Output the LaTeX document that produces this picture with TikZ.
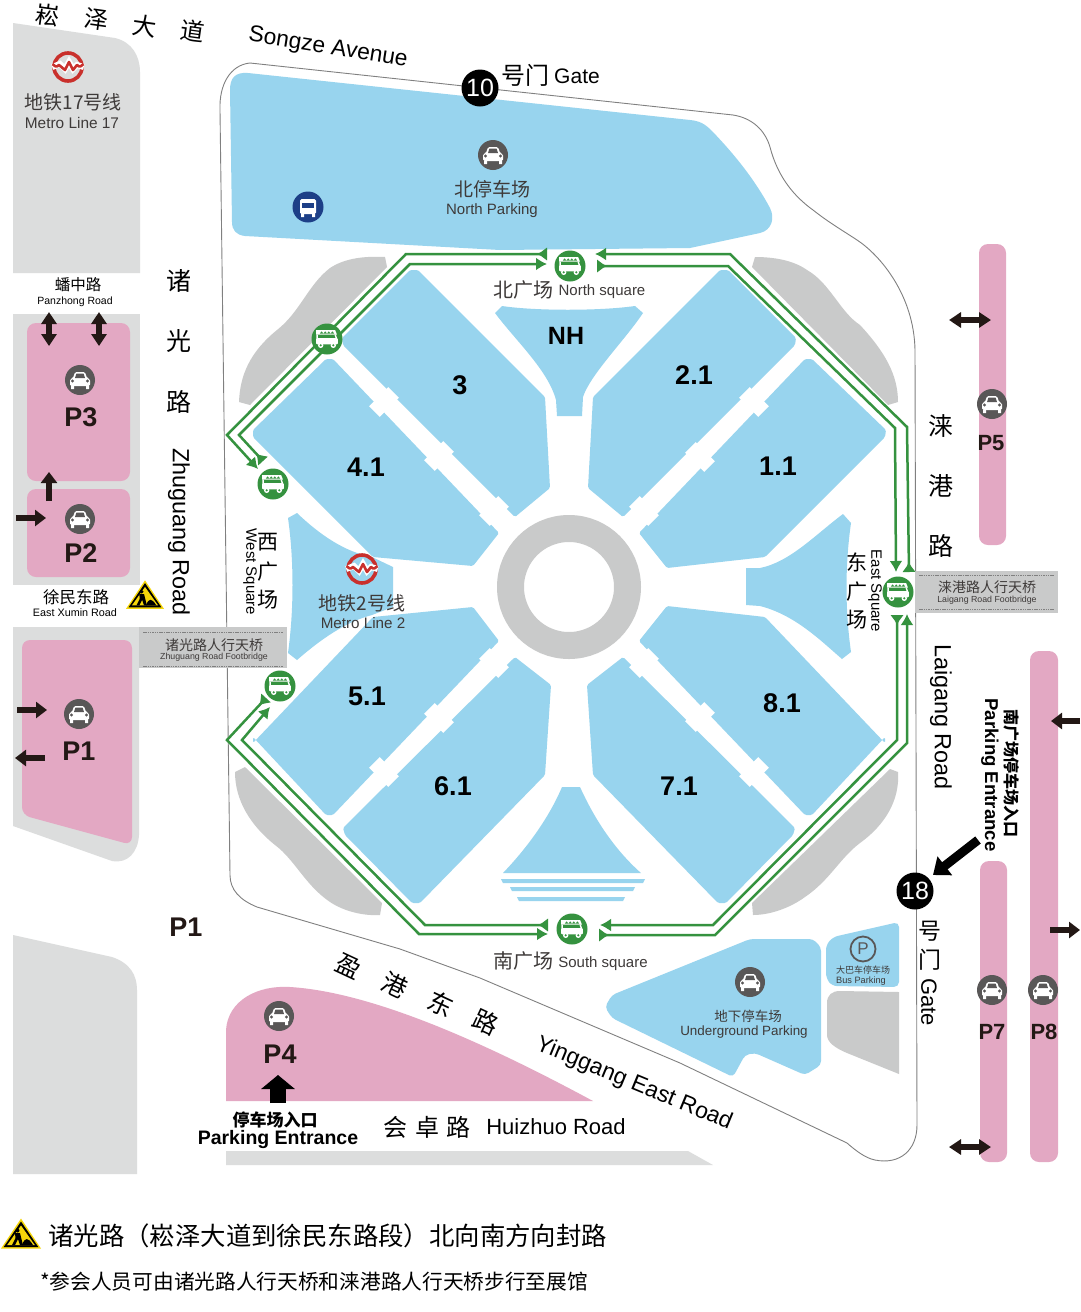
\documentclass[tikz,border=0pt]{standalone}
\usepackage{fontspec}
\setmainfont{Liberation Sans}
\newfontfamily\cjk{Noto Sans CJK SC}
\usetikzlibrary{arrows.meta}
\definecolor{hallblue}{HTML}{98D4EE}
\definecolor{pinkp}{HTML}{E3A8C3}
\definecolor{darkgray1}{HTML}{C9CACA}
\definecolor{lightgray1}{HTML}{DCDDDD}
\definecolor{routegreen}{HTML}{35923F}
\definecolor{inkdark}{HTML}{231815}
\definecolor{textgray}{HTML}{3E3A39}
\definecolor{cargray}{HTML}{595757}
\definecolor{metrored}{HTML}{C9302C}
\definecolor{metronavy}{HTML}{1D3F87}
\definecolor{signyellow}{HTML}{F5D60A}
\tikzset{
  zh/.style={font=\cjk\fontsize{#1}{#1}\selectfont,inner sep=0pt},
  en/.style={font=\fontsize{#1}{#1}\selectfont,inner sep=0pt},
  bd/.style={font=\bfseries\fontsize{#1}{#1}\selectfont,inner sep=0pt},
  zhbd/.style={font=\cjk\bfseries\fontsize{#1}{#1}\selectfont,inner sep=0pt},
  hall/.style={fill=hallblue,rounded corners=1.5pt},
  greyblob/.style={fill=darkgray1},
  pinkbox/.style={fill=pinkp,rounded corners=9pt},
  notch/.style={fill=white,inner sep=0pt,minimum width=15pt,minimum height=27pt},
  route/.style={draw=routegreen,line width=2.5pt,{Latex[reversed,length=10pt,width=14pt]}-{Latex[length=11pt,width=13pt]}},
  stop/.style={circle,fill=routegreen,inner sep=0pt,minimum size=31pt},
  carbadge/.style={circle,fill=cargray,inner sep=0pt,minimum size=30pt},
  badge/.style={circle,fill=black,text=white,inner sep=0pt,minimum size=37pt,font=\fontsize{25}{25}\selectfont},
  blockarrow/.style={draw=inkdark,line width=6pt,-{Triangle[length=11pt,width=16pt]}},
  blockboth/.style={draw=inkdark,line width=5.5pt,{Triangle[length=12pt,width=15pt]}-{Triangle[length=12pt,width=15pt]}},
  bigarrow/.style={draw=black,line width=9pt,-{Triangle[length=15pt,width=23pt]}},
  huge arrow/.style={draw=black,line width=16pt,-{Triangle[length=14pt,width=33pt]}},
  dashrule/.style={draw=gray,line width=0.6pt,dash pattern=on 1.5pt off 0.8pt},
  pics/caricon/.style={code={
    \fill[white,rounded corners=1.5pt] (-7,-2) -- (-5,-8) -- (5,-8) -- (7,-2) -- (10,-1) -- (10,6) -- (-10,6) -- (-10,-1) -- cycle;
    \fill[cargray] (-5,-2) -- (-3.6,-6.3) -- (3.6,-6.3) -- (5,-2) -- cycle;
    \fill[cargray] (-7.5,1) circle (1.6) (7.5,1) circle (1.6);
    \fill[white] (-9,6) rectangle (-6,9) (6,6) rectangle (9,9);
  }},
  pics/carticon/.style={code={
    \fill[white] (-12,-10) -- (9,-10) -- (11,-5) -- (-12,-5) -- cycle;
    \foreach \k in {-8,-4,0,4} \fill[routegreen] (\k,-6) -- (\k+2,-8.5) -- (\k+4,-6) -- cycle;
    \draw[white,line width=1.4pt] (-11,-5) -- (-11,5) (9,-5) -- (11,1) -- (11,5);
    \fill[white,rounded corners=1pt] (-12,-1) -- (12,-1) -- (12,6) -- (-12,6) -- cycle;
    \fill[white] (-7,7) circle (3) (7,7) circle (3);
    \fill[routegreen] (-7,7) circle (1.3) (7,7) circle (1.3);
  }},
  pics/metrologo/.style={code={
    \draw[metrored,line width=3.6pt] (0,0) circle (14);
    \draw[white,line width=6pt] (-15.8,0) -- (-8,-3) -- (-3,2) -- (1,-5) -- (5,2) -- (9,-2) -- (15.8,0);
    \draw[metrored,line width=2.6pt,line join=round] (-15.5,-3) .. controls (-13,-1) and (-12,1) .. (-9,-2) -- (-3,3) -- (1,-5) -- (5,3) -- (9,-2) .. controls (12,1) and (13,-1) .. (15.5,-3);
  }},
  pics/warnsign/.style={code={
    \fill[signyellow] (0,-15.5) -- (20,14.5) -- (-20,14.5) -- cycle;
    \fill[black] (0,-12.5) -- (17.3,13) -- (-17.3,13) -- cycle;
    \fill[signyellow] (0,-8.5) -- (13.8,11) -- (-13.8,11) -- cycle;
    \fill[black] (1,11) .. controls (4,3) and (7,3) .. (12,11) -- cycle;
    \fill[black] (-3.5,-3.5) circle (2);
    \fill[black] (-6,-1) -- (-1,-1) -- (0,3) -- (2,11) -- (-1,11) -- (-3,5) -- (-6,11) -- (-9,11) -- (-5.5,4) -- cycle;
  }},
}
\begin{document}
\begin{tikzpicture}[x=1pt,y=-1pt]
\useasboundingbox (0,0) rectangle (1080,1312);
\fill[white] (0,0) rectangle (1080,1312);

% light grey blocks on the left
\fill[lightgray1] (13,23) -- (115,38) .. controls (132,42) and (140,56) .. (140,72) -- (140,273) -- (13,273) -- cycle;
\fill[lightgray1] (13,314) rectangle (140,585);
\fill[lightgray1] (13,627) -- (139,627) -- (139,835) .. controls (138,852) and (128,864) .. (112,861) -- (13,826) -- cycle;
\fill[lightgray1] (13,935) -- (112,957) .. controls (130,963) and (137,975) .. (137,990) -- (137,1174) -- (13,1174) -- cycle;
\fill[lightgray1] (226,1151) -- (688,1151) -- (713,1165) -- (226,1165) -- cycle;

% site boundary
\draw[gray,line width=0.9pt] (250,63) -- (733,115) .. controls (752,118) and (765,130) .. (770,147) .. controls (778,178) and (795,197) .. (813,210) .. controls (828,222) and (845,232) .. (857,240) .. controls (880,255) and (914,295) .. (915,350) -- (917,1125) .. controls (917,1150) and (900,1165) .. (875,1160) .. controls (865,1158) and (855,1150) .. (847,1143) -- (680,1063) -- (480,978) -- (400,949) -- (257,907) .. controls (240,900) and (230,890) .. (230,875) -- (220,110) .. controls (219,85) and (230,65) .. (250,63);

% pink parking
\fill[pinkbox] (27,323) rectangle (130,481);
\fill[pinkbox] (27,489) rectangle (130,577);
\fill[pinkp,rounded corners=8pt] (22,640) -- (132,640) -- (132,845) -- (22,815) -- cycle;
\fill[pinkp] (226,1101) -- (226,1030) .. controls (228,1000) and (258,985) .. (290,987) .. controls (370,992) and (480,1040) .. (593,1101) -- cycle;
\fill[pinkbox] (979,244) rectangle (1006,545);
\fill[pinkbox] (980,861) rectangle (1007,1162);
\fill[pinkbox] (1030,651) rectangle (1058,1162);

% grey blobs
\fill[greyblob] (385,257) -- (387,267) -- (250,405) -- (239,402) .. controls (240,375) and (250,352) .. (277,330) .. controls (300,312) and (308,285) .. (330,268) .. controls (345,258) and (365,256) .. (385,257) -- cycle;
\fill[greyblob] (755,257) -- (752,267) -- (888,405) -- (898,402) .. controls (898,375) and (885,352) .. (860,325) .. controls (840,312) and (830,283) .. (807,270) .. controls (793,260) and (773,257) .. (755,257) -- cycle;
\fill[greyblob] (245,767) -- (235,772) .. controls (235,800) and (250,825) .. (275,845) .. controls (295,860) and (305,885) .. (330,902) .. controls (345,912) and (365,916) .. (380,915) -- (382,903) -- cycle;
\fill[greyblob] (890,769) -- (898,772) .. controls (900,800) and (885,825) .. (860,843) .. controls (840,858) and (830,880) .. (805,897) .. controls (790,908) and (770,915) .. (753,915) -- (752,903) -- cycle;
\fill[greyblob] (827,1003) .. controls (827,995) and (832,991) .. (840,991) -- (899,992) -- (899,1074) -- (847,1053) .. controls (835,1048) and (827,1042) .. (827,1035) -- cycle;
\draw[darkgray1,line width=27pt] (569,587) circle (58.5);

% blue areas
\fill[hallblue] (230,90) .. controls (230,78) and (235,72) .. (248,73) -- (690,120) .. controls (700,121) and (705,124) .. (712,131) .. controls (735,155) and (755,180) .. (770,208) .. controls (775,218) and (772,230) .. (760,233) -- (690,248) -- (500,250) -- (245,236) .. controls (236,235) and (232,230) .. (232,222) -- cycle;
\fill[hall] (410,270) -- (418,270) -- (545,397) -- (550,488) -- (515,517) -- (343,345) -- (342,338) -- cycle;
\fill[hall] (728,270) -- (720,270) -- (593,397) -- (588,488) -- (623,517) -- (795,345) -- (796,338) -- cycle;
\fill[hall] (326,359) -- (333,359) -- (499,533) -- (473,566) -- (373,557) -- (253,437) -- (253,430) -- cycle;
\fill[hall] (812,359) -- (805,359) -- (639,533) -- (667,568) -- (765,557) -- (885,437) -- (886,430) -- cycle;
\fill[hall] (326,815) -- (333,815) -- (499,641) -- (473,607) -- (373,617) -- (253,743) -- (253,737) -- cycle;
\fill[hall] (812,815) -- (805,815) -- (639,641) -- (667,606) -- (765,617) -- (885,743) -- (885,737) -- cycle;
\fill[hall] (515,657) -- (551,685) -- (545,775) -- (420,903) -- (412,903) -- (345,835) -- (343,828) -- cycle;
\fill[hall] (623,657) -- (587,685) -- (593,775) -- (718,903) -- (726,903) -- (793,835) -- (795,828) -- cycle;
\fill[hallblue] (495,313) -- (502,306) .. controls (535,311) and (600,311) .. (635,306) -- (643,313) .. controls (625,340) and (590,375) .. (583,397) -- (582,416) -- (557,416) -- (556,400) .. controls (548,370) and (515,340) .. (495,313) -- cycle;
\fill[hallblue] (562,787) -- (580,787) .. controls (595,820) and (615,850) .. (641,873) -- (503,873) .. controls (525,850) and (548,820) .. (562,787) -- cycle;
\fill[hallblue] (501,879) -- (645,879) -- (643,883) -- (503,883) -- cycle;
\fill[hallblue] (510,887) -- (635,887) -- (633,891) -- (512,891) -- cycle;
\fill[hallblue] (517,897) -- (625,897) -- (623,901) -- (519,901) -- cycle;
\fill[hallblue] (288,518) -- (297,513) .. controls (320,535) and (345,552) .. (372,557) -- (393,567) -- (393,607) -- (372,615) .. controls (345,622) and (320,640) .. (297,660) -- (288,653) .. controls (294,610) and (294,560) .. (288,518) -- cycle;
\fill[hallblue] (843,514) -- (851,523) .. controls (845,565) and (845,610) .. (851,652) -- (842,659) .. controls (820,640) and (795,615) .. (760,606) -- (746,605) -- (746,568) -- (760,568) .. controls (790,562) and (815,535) .. (843,514) -- cycle;
\fill[hallblue,rounded corners=5pt] (826,945) -- (833,937) -- (899,922) -- (899,987) -- (832,986) -- (826,978) -- cycle;
\fill[hallblue,rounded corners=4pt] (750,939) -- (813,939) -- (821,947) -- (821,1065) -- (805,1075) -- (755,1053) -- (745,1055) -- (733,1077) -- (612,1018) -- (605,1007) -- (612,995) -- cycle;

% widened parts of the walkways
\foreach \x/\y in {384/402,439/456,494/511,644/663,700/717,754/772} \node[notch,rotate=-45] at (\x,\y) {};
\foreach \x/\y in {754/402,700/457,644/511,384/772,439/718,494/663} \node[notch,rotate=45] at (\x,\y) {};

% footbridges
\fill[darkgray1] (139,627) rectangle (287,668);
\draw[dashrule] (143,632) -- (283,632) (143,666) -- (283,666);
\fill[darkgray1] (915,571) rectangle (1058,613);
\draw[dashrule] (919,575) -- (1054,575) (919,609) -- (1054,609);

% shuttle route way-points
\coordinate (nwA) at (547,254); \coordinate (nwB) at (406,254); \coordinate (nwC) at (227,435); \coordinate (nwD) at (258,469);
\coordinate (wnA) at (263,461); \coordinate (wnB) at (239,435); \coordinate (wnC) at (410,264); \coordinate (wnD) at (547,264);
\coordinate (enA) at (909,572); \coordinate (enB) at (907,427); \coordinate (enC) at (730,254); \coordinate (enD) at (595,254);
\coordinate (neA) at (597,266); \coordinate (neB) at (728,266); \coordinate (neC) at (895,428); \coordinate (neD) at (896,572);
\coordinate (esA) at (897,615); \coordinate (esB) at (897,740); \coordinate (esC) at (713,925); \coordinate (esD) at (600,925);
\coordinate (seA) at (599,935); \coordinate (seB) at (715,935); \coordinate (seC) at (907,743); \coordinate (seD) at (907,614);
\coordinate (swA) at (266,698); \coordinate (swB) at (227,740); \coordinate (swC) at (419,934); \coordinate (swD) at (548,934);
\coordinate (wsA) at (548,925); \coordinate (wsB) at (425,925); \coordinate (wsC) at (242,740); \coordinate (wsD) at (270,707);
\draw[route] (nwA) -- (nwB) -- (nwC) -- (nwD);
\draw[route] (wnA) -- (wnB) -- (wnC) -- (wnD);
\draw[route] (enA) -- (enB) -- (enC) -- (enD);
\draw[route] (neA) -- (neB) -- (neC) -- (neD);
\draw[route] (esA) -- (esB) -- (esC) -- (esD);
\draw[route] (seA) -- (seB) -- (seC) -- (seD);
\draw[route] (swA) -- (swB) -- (swC) -- (swD);
\draw[route] (wsA) -- (wsB) -- (wsC) -- (wsD);

% shuttle stops
\node[stop] (stopN) at (570,266) {}; \pic[scale=0.9] at (stopN) {carticon};
\node[stop] (stopNW) at (327,339) {}; \pic[scale=0.9] at (stopNW) {carticon};
\node[stop] (stopW) at (273,484) {}; \pic[scale=0.9] at (stopW) {carticon};
\node[stop] (stopSW) at (280,686) {}; \pic[scale=0.9] at (stopSW) {carticon};
\node[stop] (stopS) at (572,929) {}; \pic[scale=0.9] at (stopS) {carticon};
\node[stop] (stopE) at (898,592) {}; \pic[scale=0.9] at (stopE) {carticon};

% car badges
\node[carbadge] (carN) at (493,155) {}; \pic at (carN) {caricon};
\node[carbadge] (carP3) at (80,380) {}; \pic at (carP3) {caricon};
\node[carbadge] (carP2) at (80,519) {}; \pic at (carP2) {caricon};
\node[carbadge] (carP1) at (79,714) {}; \pic at (carP1) {caricon};
\node[carbadge] (carP4) at (279,1016) {}; \pic at (carP4) {caricon};
\node[carbadge] (carP5) at (992,404) {}; \pic at (carP5) {caricon};
\node[carbadge] (carP7) at (992,990) {}; \pic at (carP7) {caricon};
\node[carbadge] (carP8) at (1043,990) {}; \pic at (carP8) {caricon};
\node[carbadge] (carU) at (750,982) {}; \pic at (carU) {caricon};
\node[circle,draw=cargray,line width=1.8pt,minimum size=25pt,inner sep=0pt,text=cargray,font=\fontsize{17}{17}\selectfont] (busP) at (863,949) {P};

% bus icon
\node[circle,fill=metronavy,minimum size=31pt,inner sep=0pt] (busicon) at (308,207) {};
\fill[white,rounded corners=1.5pt] (300,199) rectangle (316,214);
\fill[metronavy] (302,203) rectangle (314,208);
\fill[white] (301,214) rectangle (304,217) (312,214) rectangle (315,217);

% metro
\pic at (68,67) {metrologo};
\pic at (362,569) {metrologo};
\node[zh=19,text=textgray] (m17a) at (73,102) {地铁17号线};
\node[en=15.4,text=textgray] (m17b) at (72,123) {Metro Line 17};
\node[zh=19,text=textgray] (m2a) at (362,603) {地铁2号线};
\node[en=15.2,text=textgray] (m2b) at (363,623) {Metro Line 2};

% signs
\pic[scale=0.95] at (145,595) {warnsign};
\pic at (21,1234) {warnsign};

% gates
\node[badge] (gate10) at (480,88) {10};
\node[badge] (gate18) at (915,891) {18};
\node[zh=24] (g10zh) at (525,75) {号门};
\node[en=21] (g10en) at (577,76) {Gate};
\node[zh=23] (g18a) at (930,931) {号};
\node[zh=23] (g18b) at (930,960) {门};
\node[en=22,rotate=-90] (g18c) at (929,1002) {Gate};

% block arrows
\coordinate (a1s) at (49,312); \coordinate (a1e) at (49,346);
\coordinate (a2s) at (99,312); \coordinate (a2e) at (99,346);
\draw[blockboth] (a1s) -- (a1e);
\draw[blockboth] (a2s) -- (a2e);
\coordinate (a3s) at (49,501); \coordinate (a3e) at (49,472); \draw[blockarrow] (a3s) -- (a3e);
\coordinate (a4s) at (16,518); \coordinate (a4e) at (46,518); \draw[blockarrow] (a4s) -- (a4e);
\coordinate (a5s) at (17,710); \coordinate (a5e) at (47,710); \draw[blockarrow] (a5s) -- (a5e);
\coordinate (a6s) at (45,758); \coordinate (a6e) at (15,758); \draw[blockarrow] (a6s) -- (a6e);
\coordinate (a7s) at (949,320); \coordinate (a7e) at (991,320); \draw[blockboth] (a7s) -- (a7e);
\coordinate (a8s) at (949,1147); \coordinate (a8e) at (991,1147); \draw[blockboth] (a8s) -- (a8e);
\coordinate (a9s) at (1080,721); \coordinate (a9e) at (1051,721); \draw[blockarrow] (a9s) -- (a9e);
\coordinate (a10s) at (1050,930); \coordinate (a10e) at (1080,930); \draw[blockarrow] (a10s) -- (a10e);
\coordinate (a11s) at (978,840); \coordinate (a11e) at (933,875); \draw[bigarrow] (a11s) -- (a11e);
\coordinate (a12s) at (278,1103); \coordinate (a12e) at (278,1075); \draw[huge arrow] (a12s) -- (a12e);

% road names
\node[zh=24,rotate=-8] (sz1) at (48,15) {崧};
\node[zh=24,rotate=-8] (sz2) at (97,19) {泽};
\node[zh=24,rotate=-8] (sz3) at (145,26) {大};
\node[zh=24,rotate=-8] (sz4) at (193,31) {道};
\node[en=22.8,rotate=-9] (szen) at (328,48) {Songze Avenue};
\node[zh=25] (zg1) at (179,281) {诸};
\node[zh=25] (zg2) at (179,341) {光};
\node[zh=25] (zg3) at (179,402) {路};
\node[en=23.4,rotate=-90] (zgen) at (179,532) {Zhuguang Road};
\node[zh=25] (lg1) at (941,426) {涞};
\node[zh=25] (lg2) at (941,486) {港};
\node[zh=25] (lg3) at (941,546) {路};
\node[en=23.4,rotate=-90] (lgen) at (941,717) {Laigang Road};
\node[zh=25,rotate=-25] (yg1) at (349,966) {盈};
\node[zh=25,rotate=-25] (yg2) at (395,985) {港};
\node[zh=25,rotate=-25] (yg3) at (441,1004) {东};
\node[zh=25,rotate=-25] (yg4) at (486,1022) {路};
\node[en=23,rotate=-22.5] (ygen) at (634,1084) {Yinggang East Road};
\node[zh=24] (hz1) at (395,1127) {会};
\node[zh=24] (hz2) at (427,1127) {卓};
\node[zh=24] (hz3) at (458,1127) {路};
\node[en=22,] (hzen) at (556,1127) {Huizhuo Road};
\node[zh=15.5] (pzzh) at (78,285) {蟠中路};
\node[en=10.5] (pzen) at (75,302) {Panzhong Road};
\node[zh=16.5] (xmzh) at (76,597) {徐民东路};
\node[en=10.8] (xmen) at (75,613) {East Xumin Road};
\node[zh=14,text=textgray] (zfzh) at (214,645) {诸光路人行天桥};
\node[en=8.8,text=textgray] (zfen) at (214,657) {Zhuguang Road Footbridge};
\node[zh=14,text=textgray] (lfzh) at (987,587) {涞港路人行天桥};
\node[en=8.8,text=textgray] (lfen) at (987,600) {Laigang Road Footbridge};

% squares
\node[zh=20,text=textgray] (nszh) at (523,290) {北广场};
\node[en=15,text=textgray] (nsen) at (602,292) {North square};
\node[zh=20,text=textgray] (sszh) at (523,961) {南广场};
\node[en=15,text=textgray] (ssen) at (603,964) {South square};
\node[zh=21] (ws1) at (268,542) {西};
\node[zh=21] (ws2) at (268,572) {广};
\node[zh=21] (ws3) at (268,600) {场};
\node[en=15,rotate=-90] (wsen) at (250,572) {West Square};
\node[zh=21] (es1) at (857,562) {东};
\node[zh=21] (es2) at (857,592) {广};
\node[zh=21] (es3) at (857,620) {场};
\node[en=15,rotate=-90] (esen) at (875,591) {East Square};

% parking labels
\node[zh=19,text=textgray] (npzh) at (492,189) {北停车场};
\node[en=15,text=textgray] (npen) at (492,211) {North Parking};
\node[zh=13.5,text=textgray] (upzh) at (748,1016) {地下停车场};
\node[en=13.4,text=textgray] (upen) at (744,1032) {Underground Parking};
\node[zh=9,text=textgray] (bpzh) at (863,970) {大巴车停车场};
\node[en=9.2,text=textgray] (bpen) at (861,981) {Bus Parking};
\node[bd=27,text=inkdark] (p3) at (81,417) {P3};
\node[bd=27,text=inkdark] (p2) at (81,553) {P2};
\node[bd=27,text=inkdark] (p1) at (79,751) {P1};
\node[bd=27,text=inkdark] (p4) at (280,1054) {P4};
\node[bd=27,text=inkdark] (p1b) at (186,927) {P1};
\node[bd=22,text=inkdark] (p5) at (991,443) {P5};
\node[bd=22,text=inkdark] (p7) at (992,1032) {P7};
\node[bd=22,text=inkdark] (p8) at (1044,1032) {P8};
\node[zhbd=17] (pe1) at (275,1120) {停车场入口};
\node[bd=19.5] (pe2) at (278,1139) {Parking Entrance};
\node[zhbd=16,rotate=-90] (pe3) at (1012,773) {南广场停车场入口};
\node[bd=18.6,rotate=-90] (pe4) at (990,775) {Parking Entrance};

% hall numbers
\node[bd=27] (h3) at (460,385) {3};
\node[bd=27] (h21) at (694,375) {2.1};
\node[bd=27] (h41) at (366,467) {4.1};
\node[bd=27] (h11) at (778,466) {1.1};
\node[bd=27] (h51) at (367,696) {5.1};
\node[bd=27] (h81) at (782,703) {8.1};
\node[bd=27] (h61) at (453,786) {6.1};
\node[bd=27] (h71) at (679,786) {7.1};
\node[bd=25] (hNH) at (566,336) {NH};

% notes
\node[zh=25.4,anchor=west] (note1) at (48,1236) {诸光路（崧泽大道到徐民东路段）北向南方向封路};
\node[zh=20.7,anchor=west] (note2) at (40,1282) {*参会人员可由诸光路人行天桥和涞港路人行天桥步行至展馆};
\end{tikzpicture}
\end{document}
